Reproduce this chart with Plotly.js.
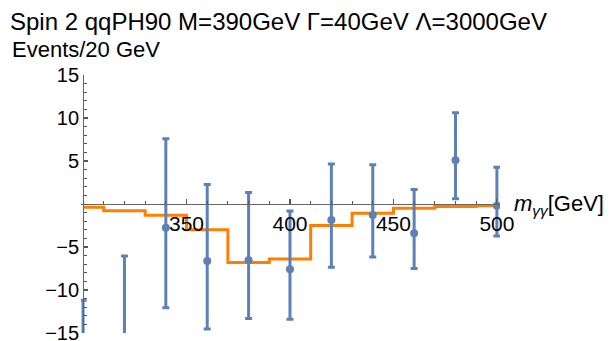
<!DOCTYPE html>
<html>
<head>
<meta charset="utf-8">
<script src="https://cdn.plot.ly/plotly-3.0.1.min.js"></script>
<style>html,body{margin:0;padding:0;background:#fff;}#chart{width:610px;height:341px;}</style>
</head>
<body>
<div id="chart"></div>
<script>
// Data
const massBins = [300, 320, 340, 360, 380, 400, 420, 440, 460, 480, 500];
const signalModel = [-0.38, -0.78, -1.3, -3.0, -6.8, -6.4, -2.5, -1.08, -0.5, -0.3, -0.2];
const observed = [-23.5, -17.5, -2.75, -6.63, -6.55, -7.6, -1.86, -1.28, -3.41, 5.1, -0.2];
const errUp = [12.3, 11.45, 10.35, 8.9, 7.9, 6.8, 6.5, 5.85, 5.1, 5.5, 4.46];
const errDown = [11.3, 10.4, 9.3, 7.9, 6.75, 5.8, 5.5, 4.88, 4.1, 4.5, 3.52];
const xTickVals = [350, 400, 450, 500];
const xTickText = ['350', '400', '450', '500'];
const yTickVals = [-15, -10, -5, 5, 10, 15];
const yTickText = ['\u221215', '\u221210', '\u22125', '5', '10', '15'];

const FONT = 'Liberation Sans, Arial, sans-serif';
const xRange = [299, 501.5];
const yAxisPos = (300 - xRange[0]) / (xRange[1] - xRange[0]);

const traces = [
  {
    x: massBins, y: signalModel, type: 'scatter', mode: 'lines',
    line: {shape: 'hvh', color: '#FF8000', width: 3},
    showlegend: false
  },
  {
    x: massBins, y: observed, type: 'scatter', mode: 'markers',
    marker: {color: '#5E81B5', size: 8},
    error_y: {type: 'data', symmetric: false, array: errUp, arrayminus: errDown,
              color: '#5E81B5', thickness: 3, width: 3.5},
    showlegend: false
  }
];

const layout = {
  width: 610, height: 341,
  margin: {l: 81, r: 110, t: 75, b: 8},
  paper_bgcolor: '#fff', plot_bgcolor: '#fff',
  font: {family: FONT, color: '#000', size: 20},
  title: {text: 'Spin 2 qqPH90 M=390GeV Γ=40GeV Λ=3000GeV',
          font: {family: FONT, size: 24, color: '#000'},
          xref: 'container', yref: 'container', x: 10/610, xanchor: 'left',
          y: 1 - 22/341, yanchor: 'middle'},
  xaxis: {
    range: xRange, anchor: 'free', position: 0.5,
    showline: true, linecolor: '#666', linewidth: 1.3,
    showgrid: false, zeroline: false,
    ticks: 'inside', ticklen: 5, tickwidth: 1.1, tickcolor: '#555',
    tickvals: xTickVals, ticktext: xTickText,
    tickfont: {family: FONT, size: 21, color: '#000'},
    minor: {dtick: 10, tick0: 300, ticks: 'inside', ticklen: 3, tickwidth: 1, tickcolor: '#555', showgrid: false}
  },
  yaxis: {
    range: [-15, 15], anchor: 'free', position: yAxisPos,
    showline: true, linecolor: '#666', linewidth: 1.3,
    showgrid: false, zeroline: false,
    ticks: 'inside', ticklen: 4, tickwidth: 1.1, tickcolor: '#555',
    tickvals: yTickVals, ticktext: yTickText, ticklabeloverflow: 'allow',
    tickfont: {family: FONT, size: 20, color: '#000'},
    minor: {dtick: 1, ticks: 'inside', ticklen: 2.5, tickwidth: 1, tickcolor: '#555', showgrid: false}
  },
  annotations: [
    {text: 'Events/20 GeV', xref: 'paper', yref: 'paper',
     x: (10 - 81) / 419, y: (333 - 49) / 258, xanchor: 'left', yanchor: 'middle',
     showarrow: false, font: {family: FONT, size: 22, color: '#000'}},
    {text: '<i>m</i><sub><i>γγ</i></sub>[GeV]', xref: 'x', yref: 'y',
     x: 500, y: 0, xanchor: 'left', yanchor: 'middle', xshift: 15, yshift: -1,
     showarrow: false, font: {family: FONT, size: 22, color: '#000'}}
  ]
};

Plotly.newPlot('chart', traces, layout, {staticPlot: true, displayModeBar: false});
</script>
</body>
</html>
